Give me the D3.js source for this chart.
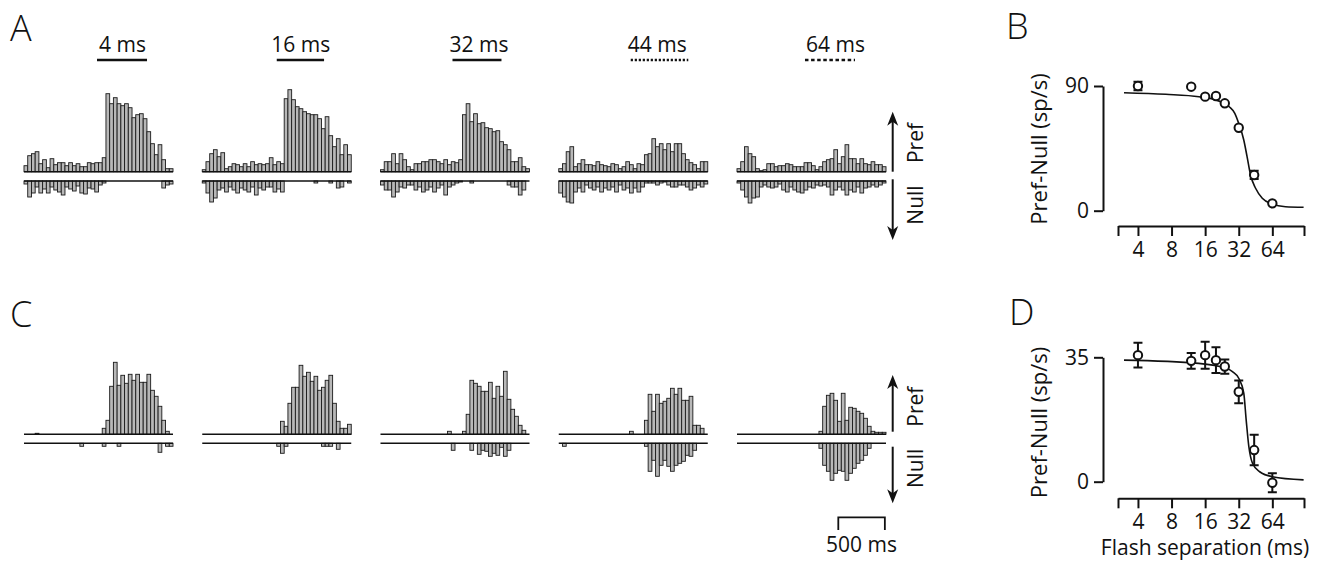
<!DOCTYPE html>
<html lang="en">
<head>
    <meta charset="UTF-8">
    <title>Flash separation tuning</title>
    <script src="https://cdn.jsdelivr.net/npm/d3@7"></script>
    <style>
        html, body {
            margin: 0;
            padding: 0;
            background-color: #fff;
        }
        svg {
            display: block;
            font-family: 'Open Sans', 'Noto Sans', sans-serif;
            fill: #111;
        }
    </style>
</head>
<body>
    <div id="figure"></div>
    <script>
        // PANELS A & C: one column per flash separation
        const separations = ["4 ms", "16 ms", "32 ms", "44 ms", "64 ms"];
        const dottedStim = [false, false, false, true, true];
        const stimOn = [784, 800, 773, 773, 730];      // ms into the trial
        const stimOff = [1321, 1308, 1299, 1391, 1267];
        const binMs = 40;                              // 40 bins of 40 ms

        // PSTH rates (relative units), preferred and null direction
        const prefA = [
            [6,16,18,20,8,12,4,13,7,9,9,6,9,6,8,5,5,9,8,9,9,14,78,68,74,68,66,68,64,54,57,58,53,40,28,17,27,12,3,3],
            [2,10,18,22,15,19,3,5,8,7,5,8,5,10,7,8,7,8,14,7,10,8,73,82,72,65,63,60,58,57,57,53,43,55,36,25,33,17,27,17],
            [2,10,10,18,8,18,12,5,2,8,8,10,10,12,12,10,8,12,7,10,9,12,57,68,50,58,48,49,44,43,40,41,30,27,22,10,10,14,5,3],
            [3,8,20,25,5,8,12,7,7,6,10,7,6,5,8,7,3,5,10,7,3,8,7,17,18,33,25,28,22,28,20,28,28,18,12,9,7,3,10,10],
            [3,10,25,18,15,3,1,2,8,8,5,6,6,8,7,5,5,5,9,9,6,2,5,10,12,13,22,8,15,27,13,13,8,13,8,7,10,7,7,5]
        ];
        const nullA = [
            [3,16,12,6,12,8,12,6,9,11,14,6,8,10,5,12,13,7,8,11,4,2,0,0,0,0,0,0,0,0,0,0,0,0,0,0,0,7,4,3],
            [2,12,21,17,9,7,11,6,9,12,7,9,11,6,14,7,9,6,6,11,8,11,0,0,0,0,0,0,0,0,2,0,0,0,2,0,7,6,0,2],
            [4,9,9,16,11,6,7,4,4,9,6,11,9,6,11,7,4,14,6,4,2,1,0,0,2,0,0,0,0,0,0,0,0,0,4,6,6,14,9,0],
            [12,16,21,22,11,7,11,4,7,9,6,11,7,9,6,11,4,9,7,12,7,11,6,2,2,2,4,2,1,4,6,6,4,4,6,9,7,4,6,3],
            [2,9,16,22,17,16,6,4,6,7,6,3,9,11,6,9,11,12,9,6,7,4,5,4,6,14,9,6,9,14,9,11,6,12,7,6,4,6,4,2]
        ];
        const prefC = [
            [0,0,0,1,0,0,0,0,0,0,0,0,0,0,0,0,0,0,0,0,0,6,14,48,72,49,59,51,60,54,60,52,52,60,44,38,28,14,3,0],
            [0,0,0,0,0,0,0,0,0,0,0,0,0,0,0,0,0,0,0,0,0,13,8,31,47,47,69,58,62,53,58,44,47,54,59,31,13,6,6,10],
            [0,0,0,0,0,0,0,0,0,0,0,0,0,0,0,0,0,0,3,0,0,0,3,20,54,51,48,43,43,52,36,48,38,63,35,25,18,9,4,0],
            [0,0,0,0,0,0,0,0,0,0,0,0,0,0,0,0,0,0,0,3,0,0,0,14,40,23,40,31,33,36,46,40,46,34,34,38,9,9,6,0],
            [0,0,0,0,0,0,0,0,0,0,0,0,0,0,0,0,0,0,0,0,0,0,3,28,39,41,34,13,41,14,27,26,23,21,16,8,3,2,2,2]
        ];
        const nullC = [
            [0,0,0,0,0,0,0,0,0,0,0,0,0,0,0,3,0,0,0,0,0,3,0,0,0,3,0,0,0,0,0,0,0,0,0,0,9,0,3,3],
            [0,0,0,0,0,0,0,0,0,0,0,0,0,0,0,0,0,0,0,0,3,10,3,0,0,0,0,0,0,0,0,0,3,3,3,0,6,0,0,0],
            [0,0,0,0,0,0,0,0,0,0,0,0,0,0,0,0,0,0,0,7,0,0,0,0,7,0,11,7,8,13,10,12,4,13,7,0,0,0,0,0],
            [0,3,0,0,0,0,0,0,0,0,0,0,0,0,0,0,0,0,0,0,0,0,0,3,28,17,33,22,17,23,28,22,20,18,12,13,7,0,0,0],
            [0,0,0,0,0,0,0,0,0,0,0,0,0,0,0,0,0,0,0,0,0,0,5,22,28,37,30,27,28,37,30,25,20,17,12,5,0,0,0,0]
        ];

        // PANELS B & D: Pref-Null vs flash separation
        const sepMs = [4, 12, 16, 20, 24, 32, 44, 64];
        const rateB = [90, 89.5, 82.3, 82.8, 77.5, 59.9, 25.8, 5.3];
        const errB = [3, 0, 0, 0, 0, 0, 3, 0];
        const fitBx = [3.0, 7.1, 14.1, 20, 26.3, 29.5, 32, 35.5, 38, 40.8, 45.3, 52, 64, 84, 122];
        const fitBy = [85.1, 84, 82.3, 79.9, 75, 70.3, 63, 51, 39, 25.8, 16.2, 9, 4.8, 2.9, 2.5];
        const rateD = [35.6, 34.0, 35.6, 34.2, 32.4, 25.3, 8.9, -0.3];
        const errD = [3.5, 2.2, 3.8, 3.6, 2.0, 3.2, 4.3, 2.7];
        const fitDx = [3.0, 14, 24.7, 28.3, 32, 35.5, 37.3, 39.4, 42.5, 49.3, 64, 122];
        const fitDy = [34.2, 33.3, 31.9, 30.9, 29.1, 24.9, 17.4, 9.9, 5.2, 2.8, 1.4, 0.5];
        const sepTicks = [2.65, 4, 8, 16, 32, 64, 123];

        const svg = d3.select("#figure")
            .append("svg")
            .attr("width", 1326)
            .attr("height", 564);

        // PANEL LETTERS
        [["A", 10, 41], ["B", 1006, 39], ["C", 10, 327], ["D", 1009, 325]].forEach(([t, x, y]) => {
            svg.append("text").attr("x", x).attr("y", y)
                .style("font-size", "36px").style("font-weight", 300).text(t);
        });

        // HISTOGRAMS
        const histLeft = 24, histStep = 178.25, histWidth = 149;
        const rate = d3.scaleLinear().domain([0, 80]).range([0, 80]);

        function drawHist(x, pref, nul, prefBase, nullBase) {
            const w = x(binMs) - x(0);
            const g = svg.append("g");
            g.selectAll(".pref")
                .data(pref.map((v, i) => ({v, i})).filter(d => d.v > 0))
                .join("rect")
                .attr("x", d => x(d.i * binMs))
                .attr("y", d => prefBase - rate(d.v))
                .attr("width", w)
                .attr("height", d => rate(d.v));
            g.selectAll(".null")
                .data(nul.map((v, i) => ({v, i})).filter(d => d.v > 0))
                .join("rect")
                .attr("x", d => x(d.i * binMs))
                .attr("y", nullBase)
                .attr("width", w)
                .attr("height", d => rate(d.v));
            g.selectAll("rect")
                .style("fill", "#b8b8b8")
                .style("stroke", "#1a1a1a")
                .style("stroke-width", 0.9);
            [prefBase, nullBase].forEach(y => {
                g.append("line")
                    .attr("x1", x(0)).attr("x2", x(40 * binMs))
                    .attr("y1", y).attr("y2", y)
                    .style("stroke", "#111").style("stroke-width", 1.5);
            });
        }

        separations.forEach((label, k) => {
            const x0 = histLeft + k * histStep;
            const x = d3.scaleLinear().domain([0, 40 * binMs]).range([x0, x0 + histWidth]);

            drawHist(x, prefA[k], nullA[k], 171.7, 181);
            drawHist(x, prefC[k], nullC[k], 434.3, 443.3);

            svg.append("text")
                .attr("x", x0 + 98.5).attr("y", 52)
                .attr("text-anchor", "middle")
                .style("font-size", "21px")
                .text(label);
            svg.append("line")
                .attr("x1", x(stimOn[k])).attr("x2", x(stimOff[k]))
                .attr("y1", 60).attr("y2", 60)
                .style("stroke", "#111")
                .style("stroke-width", 2.5)
                .style("stroke-dasharray", dottedStim[k] ? (k === 3 ? "2.2,1.8" : "3.5,2.6") : null);
        });

        // PREF / NULL ARROWS
        function arrow(x, y1, y2) {
            const dir = y2 < y1 ? 1 : -1;
            svg.append("line")
                .attr("x1", x).attr("x2", x)
                .attr("y1", y1).attr("y2", y2 + dir * 8)
                .style("stroke", "#111").style("stroke-width", 2);
            svg.append("path")
                .attr("d", `M${x},${y2} L${x - 5.5},${y2 + dir * 14} L${x},${y2 + dir * 10} L${x + 5.5},${y2 + dir * 14} Z`)
                .style("fill", "#111");
        }
        [[171.7, 111.7, 179.3, 240, 143, 205], [431.7, 375, 446.7, 503.3, 406.7, 468.3]].forEach(r => {
            arrow(892.7, r[0], r[1]);
            arrow(892.7, r[2], r[3]);
            svg.append("text").attr("transform", `translate(923,${r[4]}) rotate(-90)`)
                .attr("text-anchor", "middle").style("font-size", "21px").text("Pref");
            svg.append("text").attr("transform", `translate(923,${r[5]}) rotate(-90)`)
                .attr("text-anchor", "middle").style("font-size", "21px").text("Null");
        });

        // 500 MS SCALE BAR
        const xBar = d3.scaleLinear().domain([0, 40 * binMs]).range([0, histWidth]);
        svg.append("path")
            .attr("d", `M838.3,530 V517.3 H${838.3 + xBar(500)} V530`)
            .style("fill", "none").style("stroke", "#111").style("stroke-width", 1.8);
        svg.append("text")
            .attr("x", 838.3 + xBar(500) / 2).attr("y", 552)
            .attr("text-anchor", "middle").style("font-size", "21px").text("500 ms");

        // TUNING CURVES
        const xSep = d3.scaleLog().base(2).domain([2.65, 123]).range([1118, 1304]);

        function drawTuning(cfg) {
            const y = d3.scaleLinear().domain([0, cfg.max]).range([cfg.y0, cfg.y1]);
            const g = svg.append("g");

            const xAxis = d3.axisBottom(xSep)
                .tickValues(sepTicks)
                .tickFormat(d => [4, 8, 16, 32, 64].includes(d) ? d : "")
                .tickSize(10).tickSizeOuter(0).tickPadding(6);
            g.append("g").attr("transform", `translate(0,${cfg.xAxisY})`).call(xAxis);

            const yAxis = d3.axisLeft(y)
                .tickValues([0, cfg.max])
                .tickSize(9).tickSizeOuter(0).tickPadding(5);
            g.append("g").attr("transform", "translate(1103,0)").call(yAxis);

            g.selectAll(".domain, .tick line").style("stroke", "#111").style("stroke-width", 2);
            g.selectAll(".tick text").style("font-size", "21px").style("font-family", "'Open Sans', sans-serif").style("fill", "#111");

            g.append("text")
                .attr("transform", `translate(1047,${cfg.labelY}) rotate(-90)`)
                .attr("text-anchor", "middle").style("font-size", "22px")
                .text("Pref-Null (sp/s)");

            const line = d3.line()
                .x((d, i) => xSep(cfg.fitX[i]))
                .y(d => y(d))
                .curve(d3.curveMonotoneX);
            g.append("path").attr("d", line(cfg.fitY))
                .style("fill", "none").style("stroke", "#111").style("stroke-width", 1.6);

            const pts = sepMs.map((s, i) => ({s, v: cfg.rate[i], e: cfg.err[i]}));
            g.selectAll(".err").data(pts.filter(d => d.e > 0)).join("path")
                .attr("d", d => {
                    const cx = xSep(d.s), t = y(d.v + d.e), b = y(d.v - d.e);
                    return `M${cx - 4.5},${t} H${cx + 4.5} M${cx},${t} V${b} M${cx - 4.5},${b} H${cx + 4.5}`;
                })
                .style("fill", "none").style("stroke", "#111").style("stroke-width", 2);
            g.selectAll("circle").data(pts).join("circle")
                .attr("cx", d => xSep(d.s)).attr("cy", d => y(d.v)).attr("r", 4.2)
                .style("fill", "#fff").style("stroke", "#111").style("stroke-width", 2);
        }

        drawTuning({max: 90, y0: 210.7, y1: 86, xAxisY: 226, labelY: 149,
            rate: rateB, err: errB, fitX: fitBx, fitY: fitBy});
        drawTuning({max: 35, y0: 481.7, y1: 357.3, xAxisY: 498.3, labelY: 422.5,
            rate: rateD, err: errD, fitX: fitDx, fitY: fitDy});

        svg.append("text")
            .attr("x", 1205).attr("y", 555)
            .attr("text-anchor", "middle").style("font-size", "21px")
            .text("Flash separation (ms)");
    </script>
</body>
</html>
